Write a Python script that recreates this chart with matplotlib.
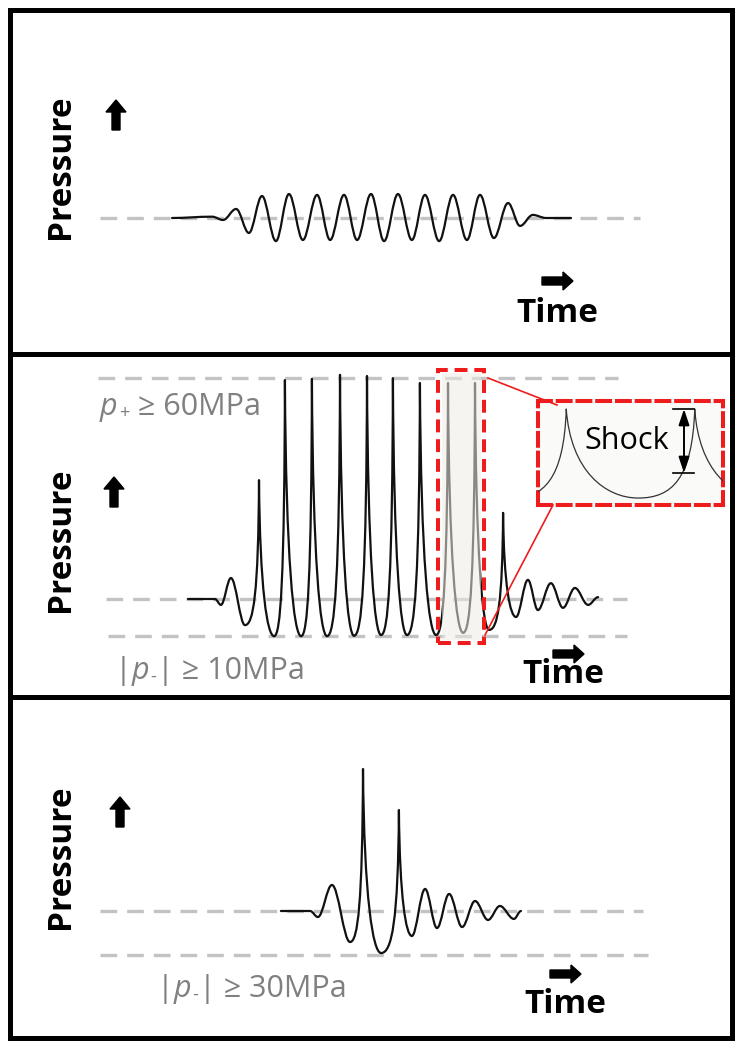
import numpy as np
import matplotlib
matplotlib.use("Agg")
import matplotlib.pyplot as plt
from matplotlib.path import Path
from matplotlib.patches import PathPatch, Rectangle, FancyArrow

plt.rcParams['font.family'] = ['Open Sans', 'DejaVu Sans']

# --- data: extrema of each pressure trace (time in cycles, pressure) ---
# panel 1: linear pulse (normalised pressure)
lin_t = [-3.30, -1.83, -1.43, -0.95, -0.48, 0.00, 0.51, 0.99, 1.50, 2.02, 2.50, 3.01,
         3.49, 4.00, 4.48, 4.99, 5.50, 5.98, 6.50, 7.01, 7.52, 8.00, 8.51, 9.03,
         9.47, 9.94, 10.42, 11.34]
lin_p = [0, 0.06, -0.09, 0.41, -0.68, 1.00, -1.05, 1.09, -1.00, 1.05, -1.00, 1.05,
         -1.00, 1.09, -1.05, 1.09, -1.00, 1.05, -1.05, 1.05, -1.00, 1.05, -0.91, 0.68,
         -0.36, 0.14, 0, 0]

# panel 2: shock scattering (MPa)
shk_t = [-2.63, -1.63, -1.41, -1.04, -0.52, 0.00, 0.56, 0.96, 1.56, 1.96, 2.52, 3.00,
         3.52, 4.00, 4.52, 4.96, 5.48, 5.96, 6.56, 7.00, 7.56, 8.00, 8.52, 9.04,
         9.52, 9.96, 10.33, 10.81, 11.26, 11.70, 12.19, 12.56]
shk_p = [0, 0, -1.6, 5.7, -7.1, 32.3, -10.1, 59.5, -10.1, 59.8, -10.1, 60.9,
         -10.0, 60.6, -9.8, 60.0, -9.8, 58.7, -9.8, 58.7, -9.2, 58.7, -8.4, 23.4,
         -4.9, 5.2, -3.0, 4.3, -2.4, 3.0, -1.6, 0.5]

# panel 3: intrinsic threshold (MPa)
int_t = [-3.04, -1.96, -1.67, -1.15, -0.48, 0.00, 0.67, 1.33, 1.81, 2.30, 2.74, 3.19,
         3.67, 4.15, 4.63, 5.07, 5.59, 5.85]
int_p = [0, 0, -4.1, 17.7, -21.1, 96.6, -28.6, 68.7, -17.0, 15.0, -11.6, 11.6,
         -10.9, 6.8, -6.1, 3.4, -5.4, 0]

p_plus_shock = 60
p_minus_shock = -10
p_minus_int = -30
# label pieces: (text, kind) with kind = normal / italic / sub
label_plus = [("p", "it"), ("+", "sub"), (" \u2265 60MPa", "rm")]
label_minus_shock = [("|", "rm"), ("p", "it"), ("-", "sub"), ("| \u2265 10MPa", "rm")]
label_minus_int = [("|", "rm"), ("p", "it"), ("-", "sub"), ("| \u2265 30MPa", "rm")]

# --- layout (pixels) ---
W, H = 742, 1050
fig = plt.figure(figsize=(W / 100, H / 100), dpi=100)
LEFT, RIGHT = 10, 732
RED = '#ee1c1c'


def wave_path(t, p, sharp):
    verts = [(t[0], p[0])]
    codes = [Path.MOVETO]
    for i in range(len(t) - 1):
        t0, p0, t1, p1 = t[i], p[i], t[i + 1], p[i + 1]
        dt = t1 - t0
        if sharp[i + 1]:      # rising into a shock front
            c1 = (t0 + 0.6 * dt, p0)
            c2 = (t1 - 0.04 * dt, p0 + 0.22 * (p1 - p0))
        elif sharp[i]:        # decaying after the shock
            c1 = (t0 + 0.06 * dt, p1 + 0.3 * (p0 - p1))
            c2 = (t1 - 0.45 * dt, p1)
        else:
            c1 = (t0 + 0.364 * dt, p0)
            c2 = (t1 - 0.364 * dt, p1)
        verts += [c1, c2, (t1, p1)]
        codes += [Path.CURVE4] * 3
    return Path(verts, codes)


def panel(top, bot, x0, y0, sx, sy):
    ax = fig.add_axes([LEFT / W, 1 - bot / H, (RIGHT - LEFT) / W, (bot - top) / H])
    ax.set_xlim((LEFT - x0) / sx, (RIGHT - x0) / sx)
    ax.set_ylim((y0 - bot) / sy, (y0 - top) / sy)
    ax.set_xticks([])
    ax.set_yticks([])
    for s in ax.spines.values():
        s.set_linewidth(3.6)
    ax.px = lambda x: (x - x0) / sx
    return ax


def ref_line(ax, level, x_from, x_to):
    ax.plot([ax.px(x_from), ax.px(x_to)], [level, level], color='#c3c3c3', lw=2.4,
            ls=(0, (5.0, 3.0)), solid_capstyle='butt', zorder=1)


def trace(ax, t, p, sharp_frac, lw=1.6, color='#111111'):
    t = np.array(t)
    p = np.array(p)
    sharp = p > sharp_frac * p.max() if sharp_frac else np.zeros(len(p), bool)
    ax.add_patch(PathPatch(wave_path(t, p, sharp), fill=False, lw=lw, ec=color,
                           joinstyle='round', capstyle='round', zorder=3))


ax1 = panel(10, 354, 262, 218, 27.25, 22)
ref_line(ax1, 0, 100, 640)
trace(ax1, lin_t, lin_p, None)

ax2 = panel(354, 697, 259, 599, 27, 3.68)
ref_line(ax2, p_plus_shock, 98, 618)
ref_line(ax2, 0, 106, 627)
ref_line(ax2, p_minus_shock, 108, 627)
trace(ax2, shk_t, shk_p, 0.3)
# highlighted cycle
ax2.add_patch(Rectangle((6.78, -11.1), 8.22 - 6.78, 61.4 + 11.1, fc='#edebe4',
                        alpha=0.55, ec='none', zorder=4))
ax2.add_patch(Rectangle((6.63, -12.0), 8.33 - 6.63, 62.2 + 12.0, fill=False,
                        ec=RED, lw=2.9, ls=(0, (3.2, 1.7)), zorder=5))

ax3 = panel(697, 1038, 363, 911, 27, 1.47)
ref_line(ax3, 0, 100, 643)
ref_line(ax3, p_minus_int, 100, 648)
trace(ax3, int_t, int_p, 0.3)

# zoomed inset of one shock cycle
axi = fig.add_axes([538 / W, 1 - 505 / H, (723 - 538) / W, (505 - 401) / H])
axi.set_facecolor('#fafaf8')
axi.set_xlim(6.78, 8.22)
axi.set_ylim(-14.5, 64.8)
axi.set_xticks([])
axi.set_yticks([])
trace(axi, shk_t, shk_p, 0.3, lw=0.9, color='#333333')
for s in axi.spines.values():
    s.set_color(RED)
    s.set_linewidth(2.9)
    s.set_linestyle((0, (3.2, 1.7)))

# overlay in pixel units for arrows and labels
ov = fig.add_axes([0, 0, 1, 1])
ov.set_xlim(0, W)
ov.set_ylim(H, 0)
ov.axis('off')
ov.set_zorder(10)

ov.plot([488, 557], [378, 405], color=RED, lw=1.2)
ov.plot([553, 485], [505, 635], color=RED, lw=1.2)

ov.annotate('', xy=(684, 409), xytext=(684, 473),
            arrowprops=dict(arrowstyle='<|-|>,head_length=0.6,head_width=0.2',
                            color='black', lw=1.4, mutation_scale=16,
                            shrinkA=0, shrinkB=0))
ov.plot([673, 694], [409, 409], color='black', lw=1.2)
ov.plot([673, 694], [473, 473], color='black', lw=1.2)
ov.text(627, 441, "Shock", fontsize=22, ha='center', va='center', color='black')

renderer = fig.canvas.get_renderer()
GREY = '#808080'


def grey_label(x, y, pieces):
    for s, kind in pieces:
        if kind == 'sub':
            t = ov.text(x + 1, y + 3, s, fontsize=13, color=GREY, va='baseline')
        else:
            t = ov.text(x, y, s, fontsize=22, color=GREY, va='baseline',
                        fontstyle='italic' if kind == 'it' else 'normal')
        x += t.get_window_extent(renderer).width + (2 if kind == 'sub' else 0)


grey_label(100, 415, label_plus)
grey_label(115, 679, label_minus_shock)
grey_label(157, 997, label_minus_int)

for py_p, ax_up, ax_right, time_xy in [(167, (116, 100), (542, 281), (516, 322)),
                                       (540, (114, 477), (553, 654), (522, 683)),
                                       (857, (120, 797), (550, 974), (524, 1013))]:
    ov.text(61, py_p, "Pressure", fontsize=24, fontweight='bold', rotation=90,
            ha='center', va='center')
    ov.add_patch(FancyArrow(ax_up[0], ax_up[1] + 30, 0, -30, width=8, head_width=20,
                            head_length=12, length_includes_head=True, color='black'))
    ov.add_patch(FancyArrow(ax_right[0], ax_right[1], 31, 0, width=8, head_width=18,
                            head_length=10, length_includes_head=True, color='black'))
    ov.text(time_xy[0], time_xy[1], "Time", fontsize=24, fontweight='bold',
            va='baseline')

fig.savefig('out.png', dpi=100)
